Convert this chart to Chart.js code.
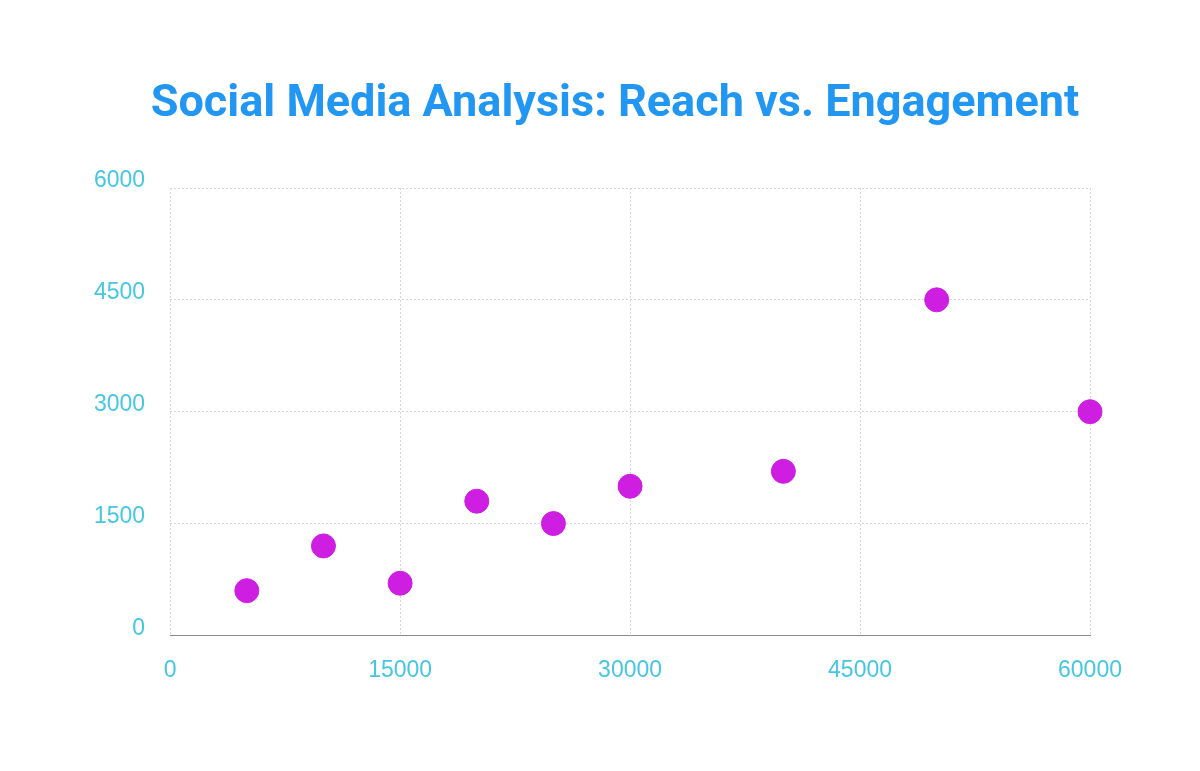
<!DOCTYPE html>
<html>
<head>
<meta charset="utf-8">
<script src="https://cdn.jsdelivr.net/npm/chart.js@4"></script>
<style>
  html, body { margin: 0; padding: 0; background: #ffffff; }
  #wrap { width: 1200px; height: 771px; position: relative; }
</style>
</head>
<body>
<div id="wrap"><canvas id="c" width="1200" height="771"></canvas></div>
<script>
const chartTitle = "Social Media Analysis: Reach vs. Engagement";
const reach = [5000, 10000, 15000, 20000, 25000, 30000, 40000, 50000, 60000];
const engagement = [600, 1200, 700, 1800, 1500, 2000, 2200, 4500, 3000];
const xTicks = [0, 15000, 30000, 45000, 60000];
const yTicks = [0, 1500, 3000, 4500, 6000];

const points = reach.map((r, i) => ({ x: r, y: engagement[i] }));
const tickColor = "#45c6e3";
const gridColor = "rgba(200,200,200,0.75)";

const titlePlugin = {
  id: "titleText",
  afterDraw(chart) {
    const ctx = chart.ctx;
    ctx.save();
    ctx.font = "bold 45px Roboto";
    ctx.fillStyle = "#2196f3";
    ctx.textAlign = "center";
    ctx.textBaseline = "alphabetic";
    ctx.fillText(chartTitle, chart.width / 2 + 15, 116);
    ctx.restore();
  }
};

new Chart(document.getElementById("c"), {
  type: "scatter",
  data: {
    datasets: [{
      label: "Engagement",
      data: points,
      backgroundColor: "rgb(205,30,225)",
      borderColor: "rgb(205,30,225)",
      pointRadius: 12,
      pointHoverRadius: 12,
      clip: false
    }]
  },
  options: {
    responsive: false,
    animation: false,
    layout: { padding: { top: 188, left: 69, right: 110, bottom: 66 } },
    plugins: {
      legend: { display: false },
      tooltip: { enabled: false },
      title: { display: false }
    },
    scales: {
      x: {
        type: "linear",
        min: xTicks[0],
        max: xTicks[xTicks.length - 1],
        afterBuildTicks: (axis) => { axis.ticks = xTicks.map(v => ({ value: v })); },
        ticks: {
          color: tickColor,
          font: { family: "Liberation Sans", size: 23 },
          padding: 21,
          maxRotation: 0,
          callback: (v) => String(v)
        },
        grid: { color: gridColor, drawTicks: false },
        border: { display: true, color: "#8a8a8a", width: 1, dash: [2, 2] }
      },
      y: {
        type: "linear",
        min: yTicks[0],
        max: yTicks[yTicks.length - 1],
        afterBuildTicks: (axis) => { axis.ticks = yTicks.map(v => ({ value: v })); },
        ticks: {
          color: tickColor,
          font: { family: "Liberation Sans", size: 23 },
          padding: 25,
          labelOffset: -7,
          callback: (v) => String(v)
        },
        grid: { color: gridColor, drawTicks: false },
        border: { display: false, dash: [2, 2] }
      }
    }
  },
  plugins: [titlePlugin]
});
</script>
</body>
</html>
